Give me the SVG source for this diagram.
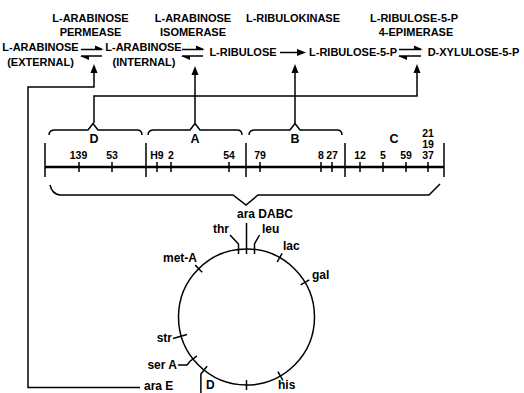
<svg xmlns="http://www.w3.org/2000/svg" width="524" height="393" viewBox="0 0 524 393">
<style>
text{font-family:"Liberation Sans",Arial,sans-serif;font-weight:bold;fill:#000}
.t{font-size:11px}
.m{text-anchor:middle}
.e{text-anchor:end}
.n{font-size:10.5px;text-anchor:middle}
.g{font-size:12.5px;text-anchor:middle}
.c{font-size:12px}
.ln{fill:none;stroke:#000;stroke-width:1.5}
.map{fill:none;stroke:#000;stroke-width:2.6}
.hd{fill:#000;stroke:none}
</style>
<rect width="524" height="393" fill="#fff"/>
<g id="enzymes">
<text class="t m" x="90.5" y="22">L-ARABINOSE</text>
<text class="t m" x="90.5" y="36">PERMEASE</text>
<text class="t m" x="193" y="22">L-ARABINOSE</text>
<text class="t m" x="193" y="36">ISOMERASE</text>
<text class="t m" x="293" y="22">L-RIBULOKINASE</text>
<text class="t m" x="414" y="22">L-RIBULOSE-5-P</text>
<text class="t m" x="416" y="36">4-EPIMERASE</text>
</g>
<g id="ara-ext"><text class="t m" x="40.5" y="51">L-ARABINOSE</text><text class="t m" x="40.5" y="66">(EXTERNAL)</text></g>
<g id="ara-int"><text class="t m" x="143.5" y="51">L-ARABINOSE</text><text class="t m" x="144" y="66">(INTERNAL)</text></g>
<g id="ribulose"><text class="t m" x="243" y="56">L-RIBULOSE</text></g>
<g id="ribulose5p"><text class="t m" x="353" y="56">L-RIBULOSE-5-P</text></g>
<g id="xylulose5p"><text class="t m" x="473.5" y="56">D-XYLULOSE-5-P</text></g>
<g id="connectors">
<path class="ln" d="M81,49.5H102M81,56H102"/>
<path class="hd" d="M104,49.5L95,45.5L95,49.5ZM80,56L89,60L89,56Z"/>
<path class="ln" d="M182,49.5H203M182,56H203"/>
<path class="hd" d="M205,49.5L196,45.5L196,49.5ZM181,56L190,60L190,56Z"/>
<path class="ln" d="M280,52.5H298"/>
<path class="hd" d="M306,52.5L297,49L297,56Z"/>
<path class="ln" d="M399,49.5H421M399,56H421"/>
<path class="hd" d="M423,49.5L414,45.5L414,49.5ZM398,56L407,60L407,56Z"/>
<path class="ln" d="M140,387.5H28V87H94V71"/>
<path class="hd" d="M94,64L90.5,73L97.5,73Z"/>
<path class="ln" d="M94,123V96H417V71"/>
<path class="hd" d="M417,64L413.5,73L420.5,73Z"/>
<path class="ln" d="M195,123V73"/>
<path class="hd" d="M195,66L191.5,75L198.5,75Z"/>
<path class="ln" d="M295,123V71"/>
<path class="hd" d="M295,64L291.5,73L298.5,73Z"/>
</g>
<g id="genemap">
<path class="ln" d="M49,135Q49,130 55,130H88L93,123.5L98,130H137Q142,130 142,135"/>
<path class="ln" d="M148,135Q148,130 154,130H190L195,123.5L200,130H237Q242,130 242,135"/>
<path class="ln" d="M249,135Q249,130 255,130H290L295,123.5L300,130H337Q342,130 342,135"/>
<text class="g" x="94" y="143">D</text>
<text class="g" x="195" y="143">A</text>
<text class="g" x="295" y="143">B</text>
<text class="g" x="394" y="143">C</text>
<path class="map" d="M45,167H444"/>
<path class="ln" d="M45,143V177M146,143V177M246,143V177M345,143V177M444,143V177"/>
<path class="ln" d="M79,162V172M112,162V172M157,162V172M171,162V172M229,162V172M260,162V172M321,162V172M332,162V172M360,162V172M383,162V172M406,162V172M428,162V172"/>
<text class="n" x="78.5" y="159">139</text>
<text class="n" x="112" y="159">53</text>
<text class="n" x="157" y="159">H9</text>
<text class="n" x="171" y="159">2</text>
<text class="n" x="229" y="159">54</text>
<text class="n" x="260" y="159">79</text>
<text class="n" x="321" y="159">8</text>
<text class="n" x="332" y="159">27</text>
<text class="n" x="360" y="159">12</text>
<text class="n" x="383" y="159">5</text>
<text class="n" x="406" y="159">59</text>
<text class="n" x="428" y="159">37</text>
<text class="n" x="428" y="147.5">19</text>
<text class="n" x="428" y="137">21</text>
<path class="ln" d="M50,185Q52,194 60,195H233L246,205L258,195H429L440,184"/>
</g>
<g id="chromosome">
<circle class="ln" cx="246.5" cy="317" r="68"/>
<text class="c" x="237" y="218">ara DABC</text>
<text class="c e" x="229" y="233">thr</text>
<text class="c" x="262" y="233">leu</text>
<path class="ln" d="M246.5,223V254M230,235L238.5,244V254M259.5,235L254.5,244V254"/>
<text class="c" x="283" y="250">lac</text>
<path class="ln" d="M277.2,262L282.1,253.3"/>
<text class="c" x="312" y="279">gal</text>
<path class="ln" d="M300.7,284.9L309.3,279.8"/>
<text class="c" x="278" y="389">his</text>
<path class="ln" d="M277.9,371.6L282.9,380.3"/>
<path class="ln" d="M246.5,380V390"/>
<path class="ln" d="M207.1,366.2L200.9,374V393"/>
<text class="c e" x="177" y="369">ser A</text>
<path class="ln" d="M196.9,355.9L189.1,362M178,365H187L189.5,362"/>
<text class="c e" x="172" y="342">str</text>
<path class="ln" d="M187,334.5L173,338.5"/>
<text class="c e" x="197" y="262">met-A</text>
<path class="ln" d="M202.2,272.2L195.2,265.1"/>
<text class="c" x="144" y="390">ara E</text>
<text class="c" x="206" y="389">D</text>
</g>
</svg>
